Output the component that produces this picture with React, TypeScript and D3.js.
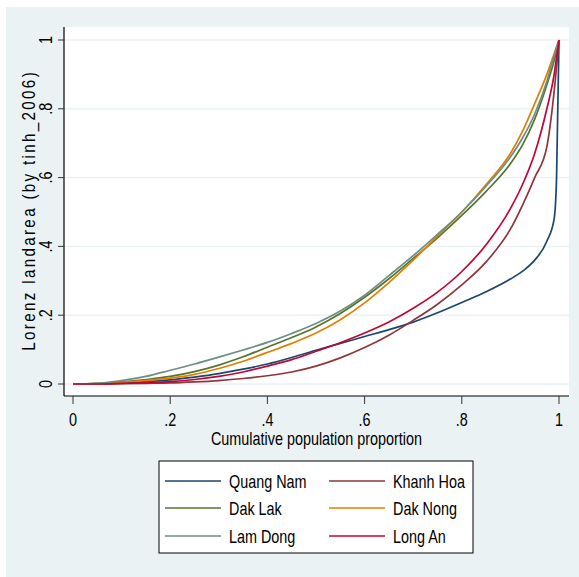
import React from "react";
import * as d3 from "d3";

// cumulative population share (shared x grid)
const popShare = [0, 0.05, 0.1, 0.15, 0.2, 0.25, 0.3, 0.35, 0.4, 0.45, 0.5, 0.55, 0.6, 0.65, 0.7, 0.75, 0.8, 0.85, 0.9, 0.925, 0.95, 0.975, 0.99, 0.995, 1];

// Lorenz landarea per province
const quangNam = [0, 0.001, 0.003, 0.007, 0.012, 0.02, 0.03, 0.043, 0.058, 0.077, 0.098, 0.118, 0.138, 0.158, 0.18, 0.207, 0.237, 0.268, 0.305, 0.328, 0.36, 0.415, 0.48, 0.6, 1];
const khanhHoa = [0, 0, 0.001, 0.002, 0.003, 0.006, 0.01, 0.016, 0.024, 0.035, 0.052, 0.076, 0.106, 0.142, 0.185, 0.232, 0.288, 0.355, 0.45, 0.52, 0.6, 0.69, 0.85, 0.92, 1];
const dakLak = [0, 0.001, 0.006, 0.013, 0.022, 0.036, 0.055, 0.079, 0.107, 0.135, 0.166, 0.205, 0.252, 0.306, 0.365, 0.425, 0.49, 0.56, 0.64, 0.695, 0.77, 0.87, 0.94, 0.97, 1];
const dakNong = [0, 0.001, 0.005, 0.01, 0.017, 0.028, 0.045, 0.066, 0.092, 0.118, 0.148, 0.187, 0.236, 0.295, 0.36, 0.43, 0.5, 0.58, 0.67, 0.735, 0.815, 0.9, 0.96, 0.98, 1];
const lamDong = [0, 0.002, 0.01, 0.022, 0.04, 0.058, 0.078, 0.099, 0.121, 0.147, 0.176, 0.212, 0.258, 0.315, 0.373, 0.435, 0.5, 0.575, 0.66, 0.715, 0.785, 0.88, 0.955, 0.978, 1];
const longAn = [0, 0, 0.002, 0.004, 0.007, 0.013, 0.022, 0.035, 0.052, 0.071, 0.095, 0.12, 0.148, 0.18, 0.22, 0.267, 0.327, 0.405, 0.51, 0.58, 0.67, 0.8, 0.9, 0.95, 1];

const seriesNames = ["Quang Nam", "Khanh Hoa", "Dak Lak", "Dak Nong", "Lam Dong", "Long An"];
const seriesValues = [quangNam, khanhHoa, dakLak, dakNong, lamDong, longAn];
const seriesColors = ["#1a476f", "#90353b", "#55752f", "#e37e00", "#6e8e84", "#c10534"];

const tickValues = [0, 0.2, 0.4, 0.6, 0.8, 1];
const tickLabels = ["0", ".2", ".4", ".6", ".8", "1"];

const W = 579;
const H = 577;
const plot = { left: 64, right: 569, top: 27, bottom: 396 };
const FONT = "'Liberation Sans', Arial, sans-serif";
const SQ = 0.8; // horizontal squeeze of Stata text

const App = () => {
  const x = d3.scaleLinear().domain([0, 1]).range([73, 559]);
  const y = d3.scaleLinear().domain([0, 1]).range([384, 40]);

  const lineGen = d3
    .line<number>()
    .x((_, i) => x(popShare[i]))
    .y((d) => y(d))
    .curve(d3.curveMonotoneX);

  const legend = { left: 159, top: 461, width: 314, height: 92 };
  const rowY = [481, 508, 536];
  const colX = [165, 329];

  return (
    <svg width={W} height={H} style={{ position: "absolute", left: 0, top: 0 }} fontFamily={FONT}>
      <rect x={0} y={0} width={W} height={H} fill="#ffffff" />
      <rect x={6} y={7} width={W - 6} height={H - 7} fill="#eaf2f3" />
      <rect x={plot.left} y={plot.top} width={plot.right - plot.left} height={plot.bottom - plot.top} fill="#ffffff" />

      {/* gridlines */}
      {tickValues.map((t) => (
        <line key={"g" + t} x1={plot.left} x2={plot.right} y1={y(t)} y2={y(t)} stroke="#eaf2f3" strokeWidth={1.5} />
      ))}

      {/* series */}
      {seriesValues.map((vals, i) => (
        <path key={seriesNames[i]} d={lineGen(vals) || ""} fill="none" stroke={seriesColors[i]} strokeWidth={1.7} />
      ))}

      {/* axes */}
      <line x1={plot.left} x2={plot.left} y1={plot.top} y2={plot.bottom} stroke="#000" strokeWidth={1.2} />
      <line x1={plot.left} x2={plot.right} y1={plot.bottom} y2={plot.bottom} stroke="#000" strokeWidth={1.2} />

      {tickValues.map((t, i) => (
        <g key={"y" + t}>
          <line x1={58} x2={plot.left} y1={y(t)} y2={y(t)} stroke="#333" strokeWidth={1} />
          <text
            transform={`translate(52,${y(t)}) rotate(-90) scale(${SQ},1)`}
            textAnchor="middle"
            fontSize={18}
            fill="#000"
          >
            {tickLabels[i]}
          </text>
        </g>
      ))}
      {tickValues.map((t, i) => (
        <g key={"x" + t}>
          <line x1={x(t)} x2={x(t)} y1={plot.bottom} y2={404} stroke="#333" strokeWidth={1} />
          <text transform={`translate(${x(t)},426) scale(${SQ},1)`} textAnchor="middle" fontSize={18} fill="#000">
            {tickLabels[i]}
          </text>
        </g>
      ))}

      {/* axis titles */}
      <text
        transform={`translate(35,${(plot.top + plot.bottom) / 2}) rotate(-90) scale(${SQ},1)`}
        textAnchor="middle"
        fontSize={19}
        textLength={348}
        lengthAdjust="spacing"
        fill="#000"
      >
        Lorenz landarea (by tinh_2006)
      </text>
      <text
        transform={`translate(${(plot.left + plot.right) / 2},445) scale(${SQ},1)`}
        textAnchor="middle"
        fontSize={18}
        fill="#000"
      >
        Cumulative population proportion
      </text>

      {/* legend */}
      <rect x={legend.left} y={legend.top} width={legend.width} height={legend.height} fill="#fff" stroke="#000" strokeWidth={1} />
      {seriesNames.map((name, i) => {
        const r = Math.floor(i / 2);
        const c = i % 2;
        return (
          <g key={"l" + name}>
            <line x1={colX[c]} x2={colX[c] + 56} y1={rowY[r]} y2={rowY[r]} stroke={seriesColors[i]} strokeWidth={1.7} />
            <text transform={`translate(${colX[c] + 64},${rowY[r] + 7}) scale(${SQ},1)`} fontSize={18} fill="#000">
              {name}
            </text>
          </g>
        );
      })}
    </svg>
  );
};

export default App;
